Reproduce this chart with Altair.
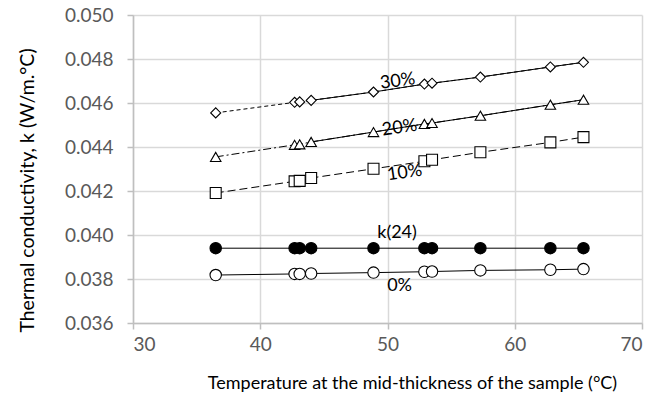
import altair as alt
import pandas as pd

temps = [36.5, 42.7, 43.1, 44.0, 48.9, 52.9, 53.5, 57.3, 62.8, 65.4]
k_0 = [0.03818, 0.03823, 0.03823, 0.03825, 0.03829, 0.03833, 0.03834, 0.03839, 0.03842, 0.03845]
k_24 = [0.0394] * 10
k_10 = [0.04191, 0.04244, 0.04246, 0.04259, 0.04301, 0.04335, 0.04342, 0.04376, 0.04421, 0.04445]
k_20 = [0.04355, 0.04410, 0.04412, 0.04423, 0.04468, 0.04505, 0.04509, 0.04542, 0.04592, 0.04615]
k_30 = [0.04555, 0.04603, 0.04605, 0.04612, 0.04650, 0.04686, 0.04690, 0.04718, 0.04764, 0.04785]

label_text = ["30%", "20%", "10%", "k(24)", "0%"]
label_x = [50.8, 50.95, 51.35, 50.75, 50.95]
label_y = [0.04698, 0.04486, 0.04282, 0.04009, 0.03766]
label_angle = [352, 352, 352, 0, 0]

series = [
    ("30%", k_30, "diamond", [4, 3], True, "white", 100),
    ("20%", k_20, "triangle-up", [8, 3, 2, 3], True, "white", 110),
    ("10%", k_10, "square", [8, 4], False, "white", 120),
    ("k(24)", k_24, "circle", None, True, "black", 130),
    ("0%", k_0, "circle", None, True, "white", 130),
]

FONT = "Lato"

xs = alt.Scale(domain=[30, 70], nice=False)
ys = alt.Scale(domain=[0.036, 0.050], nice=False, zero=False)

X = alt.X("t:Q", scale=xs,
          axis=alt.Axis(values=[30, 40, 50, 60, 70],
                        title="Temperature at the mid-thickness of the sample (°C)",
                        titleFontSize=18,
                        titleX=279, titleY=60, titleAlign="center", titleBaseline="middle"))
Y = alt.Y("k:Q", scale=ys,
          axis=alt.Axis(values=[0.036, 0.038, 0.040, 0.042, 0.044, 0.046, 0.048, 0.050],
                        format=".3f", labelPadding=14,
                        title="Thermal conductivity, k (W/m.°C)",
                        titleFontSize=19.5,
                        titleX=-106, titleY=175, titleAlign="center", titleBaseline="middle",
                        titleAngle=270))

layers = []
for name, vals, shape, dash, solid_part, fill, size in series:
    df = pd.DataFrame({"t": temps, "k": vals})
    if dash is not None:
        layers.append(alt.Chart(df).mark_line(color="black", strokeWidth=1, strokeDash=dash).encode(x=X, y=Y))
        if solid_part:
            layers.append(alt.Chart(df.iloc[3:]).mark_line(color="black", strokeWidth=1).encode(x=X, y=Y))
    else:
        layers.append(alt.Chart(df).mark_line(color="black", strokeWidth=1).encode(x=X, y=Y))
    layers.append(alt.Chart(df).mark_point(shape=shape, size=size, filled=True, fill=fill,
                                           stroke="black", strokeWidth=1.1, opacity=1).encode(x=X, y=Y))

for txt, lx, ly, ang in zip(label_text, label_x, label_y, label_angle):
    ldf = pd.DataFrame({"t": [lx], "k": [ly], "label": [txt]})
    layers.append(alt.Chart(ldf).mark_text(font=FONT, fontSize=18, color="black",
                                          angle=ang, align="center", baseline="middle")
                  .encode(x=X, y=Y, text="label:N"))

chart = alt.layer(*layers).properties(
    width=509, height=308,
    autosize=alt.AutoSizeParams(type="none"),
    padding={"left": 133, "top": 15, "right": 24, "bottom": 79},
).configure_view(stroke=None).configure_axis(
    labelFont=FONT, titleFont=FONT,
    labelFontSize=19,
    labelColor="#595959", titleColor="black", titleFontWeight="normal",
    gridColor="#d9d9d9", gridWidth=1.5,
    domainColor="#bfbfbf", domainWidth=1.5,
    tickColor="#bfbfbf", tickSize=6, tickWidth=1.5,
).configure_axisX(labelPadding=6)

chart.save("out.html", embed_options={"renderer": "svg", "actions": False})
